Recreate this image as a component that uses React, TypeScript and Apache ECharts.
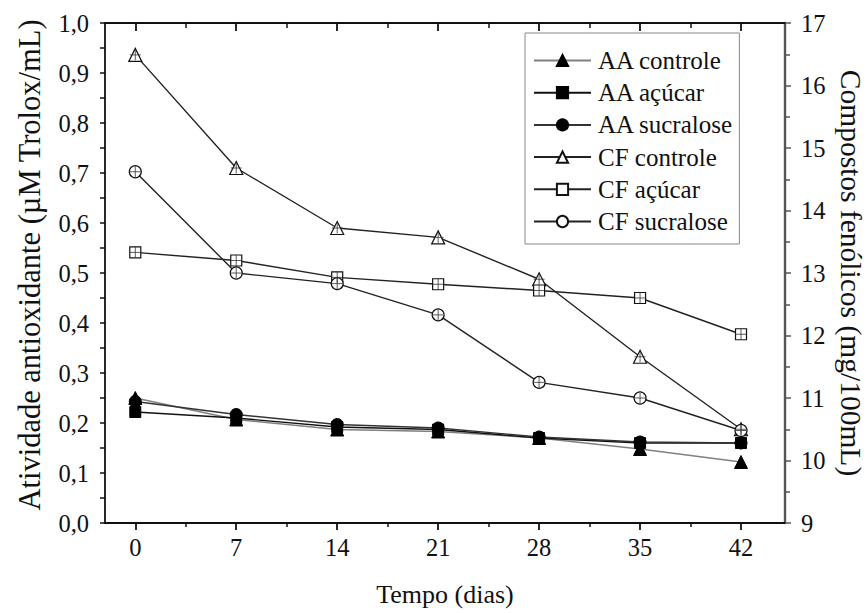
import React, { useEffect, useRef } from "react";
import * as echarts from "echarts";

const days = [0, 7, 14, 21, 28, 35, 42];
const majorTicks = [0, 7, 14, 21, 28, 35, 42];
const minorTicks = [3.5, 10.5, 17.5, 24.5, 31.5, 38.5];

const aaControle = [0.25, 0.207, 0.187, 0.183, 0.17, 0.148, 0.122];
const aaAcucar = [0.222, 0.21, 0.192, 0.187, 0.17, 0.16, 0.16];
const aaSucralose = [0.243, 0.217, 0.197, 0.19, 0.172, 0.162, 0.16];

const cfControle = [16.49, 14.68, 13.72, 13.57, 12.9, 11.66, 10.5];
const cfAcucar = [13.33, 13.2, 12.93, 12.82, 12.72, 12.6, 12.02];
const cfSucralose = [14.62, 13.0, 12.83, 12.33, 11.25, 11.0, 10.48];

const FONT = "'Liberation Serif', 'Times New Roman', serif";
const PLUS = "path://M5,0V10M0,5H10";

function pairs(vals: number[]) {
  return days.map((d, i) => [d, vals[i]]);
}

export default function App() {
  const ref = useRef<HTMLDivElement>(null);
  useEffect(() => {
    document.body.style.margin = "0";
    const chart = echarts.init(ref.current!, undefined, { renderer: "svg" });
    const axisText = { fontFamily: FONT, fontSize: 24.5, color: "#111" };
    const lineSeries = (
      name: string,
      vals: number[],
      yAxisIndex: number,
      symbol: string,
      size: number,
      lineColor: string,
      filled: boolean
    ) => ({
      name,
      type: "line",
      xAxisIndex: 0,
      yAxisIndex,
      data: pairs(vals),
      symbol,
      symbolSize: size,
      showSymbol: true,
      lineStyle: { color: lineColor, width: 1.4 },
      itemStyle: filled
        ? { color: "#000", borderColor: "#000", borderWidth: 1 }
        : { color: "#fff", borderColor: "#111", borderWidth: 1.2 },
      z: filled ? 3 : 4,
    });
    const plusSeries = (vals: number[]) => ({
      type: "scatter",
      xAxisIndex: 0,
      yAxisIndex: 1,
      data: pairs(vals),
      symbol: PLUS,
      symbolSize: 11,
      itemStyle: { color: "rgba(0,0,0,0)", borderColor: "#333", borderWidth: 1 },
      z: 5,
      silent: true,
    });
    const hiddenAxis = {
      type: "value",
      min: -2.1,
      max: 45.05,
      axisLabel: { show: false },
      splitLine: { show: false },
    };
    chart.setOption({
      animation: false,
      backgroundColor: "#fff",
      grid: { left: 105, right: 81, top: 23, bottom: 90, containLabel: false, outerBoundsMode: "none" },
      legend: {
        orient: "vertical",
        left: 525,
        top: 33,
        padding: [15, 6, 10, 8],
        itemGap: 7.2,
        itemWidth: 57,
        itemHeight: 14,
        borderColor: "#888",
        borderWidth: 1,
        backgroundColor: "#fff",
        textStyle: { fontFamily: FONT, fontSize: 25, color: "#111", padding: [0, 0, 0, 2] },
        data: ["AA controle", "AA açúcar", "AA sucralose", "CF controle", "CF açúcar", "CF sucralose"],
      },
      xAxis: [
        {
          type: "value",
          position: "bottom",
          min: -2.1,
          max: 45.05,
          axisLine: { show: true, onZero: false, lineStyle: { color: "#111", width: 1.8 } },
          axisTick: { show: true, customValues: majorTicks, length: 7, lineStyle: { color: "#111", width: 1.8 } },
          axisLabel: { ...axisText, customValues: majorTicks, margin: 12 },
          splitLine: { show: false },
          name: "Tempo (dias)",
          nameLocation: "middle",
          nameGap: 58,
          nameTextStyle: { fontFamily: FONT, fontSize: 26, color: "#111" },
        },
        {
          ...hiddenAxis,
          position: "bottom",
          axisLine: { show: false, onZero: false },
          axisTick: { show: true, customValues: minorTicks, length: 4, lineStyle: { color: "#111", width: 1.5 } },
        },
        {
          ...hiddenAxis,
          position: "top",
          axisLine: { show: true, onZero: false, lineStyle: { color: "#111", width: 1.8 } },
          axisTick: { show: true, inside: true, customValues: majorTicks, length: 8, lineStyle: { color: "#111", width: 1.8 } },
        },
        {
          ...hiddenAxis,
          position: "top",
          axisLine: { show: false, onZero: false },
          axisTick: { show: true, inside: true, customValues: minorTicks, length: 5, lineStyle: { color: "#111", width: 1.5 } },
        },
      ],
      yAxis: [
        {
          type: "value",
          position: "left",
          min: 0,
          max: 1,
          interval: 0.1,
          axisLine: { show: true, onZero: false, lineStyle: { color: "#111", width: 1.8 } },
          axisTick: { show: true, length: 5, lineStyle: { color: "#111", width: 1.5 } },
          minorTick: { show: true, splitNumber: 2, length: 5, lineStyle: { color: "#111", width: 1.5 } },
          axisLabel: {
            ...axisText,
            margin: 16,
            formatter: (v: number) => v.toFixed(1).replace(".", ","),
          },
          splitLine: { show: false },
          name: "Atividade antioxidante (µM Trolox/mL)",
          nameLocation: "middle",
          nameGap: 60,
          nameTextStyle: { fontFamily: FONT, fontSize: 30.5, color: "#111", padding: [0, 0, 0, 16] },
        },
        {
          type: "value",
          position: "right",
          min: 9,
          max: 17,
          interval: 1,
          axisLine: { show: true, onZero: false, lineStyle: { color: "#555", width: 2.4 } },
          axisTick: { show: true, length: 6, lineStyle: { color: "#555", width: 1.5 } },
          minorTick: { show: true, splitNumber: 2, length: 5, lineStyle: { color: "#555", width: 1.5 } },
          axisLabel: { ...axisText, margin: 16 },
          splitLine: { show: false },
          name: "Compostos fenólicos (mg/100mL)",
          nameLocation: "middle",
          nameRotate: -90,
          nameGap: 47,
          nameTextStyle: { fontFamily: FONT, fontSize: 29.5, color: "#111" },
        },
      ],
      series: [
        lineSeries("AA controle", aaControle, 0, "triangle", 13, "#808080", true),
        lineSeries("AA açúcar", aaAcucar, 0, "rect", 11, "#111", true),
        lineSeries("AA sucralose", aaSucralose, 0, "circle", 12, "#333", true),
        lineSeries("CF controle", cfControle, 1, "triangle", 13, "#222", false),
        lineSeries("CF açúcar", cfAcucar, 1, "rect", 11, "#222", false),
        lineSeries("CF sucralose", cfSucralose, 1, "circle", 12, "#222", false),
        plusSeries(cfControle),
        plusSeries(cfAcucar),
        plusSeries(cfSucralose),
      ],
    });
    return () => chart.dispose();
  }, []);
  return <div ref={ref} style={{ width: 866, height: 613 }} />;
}
